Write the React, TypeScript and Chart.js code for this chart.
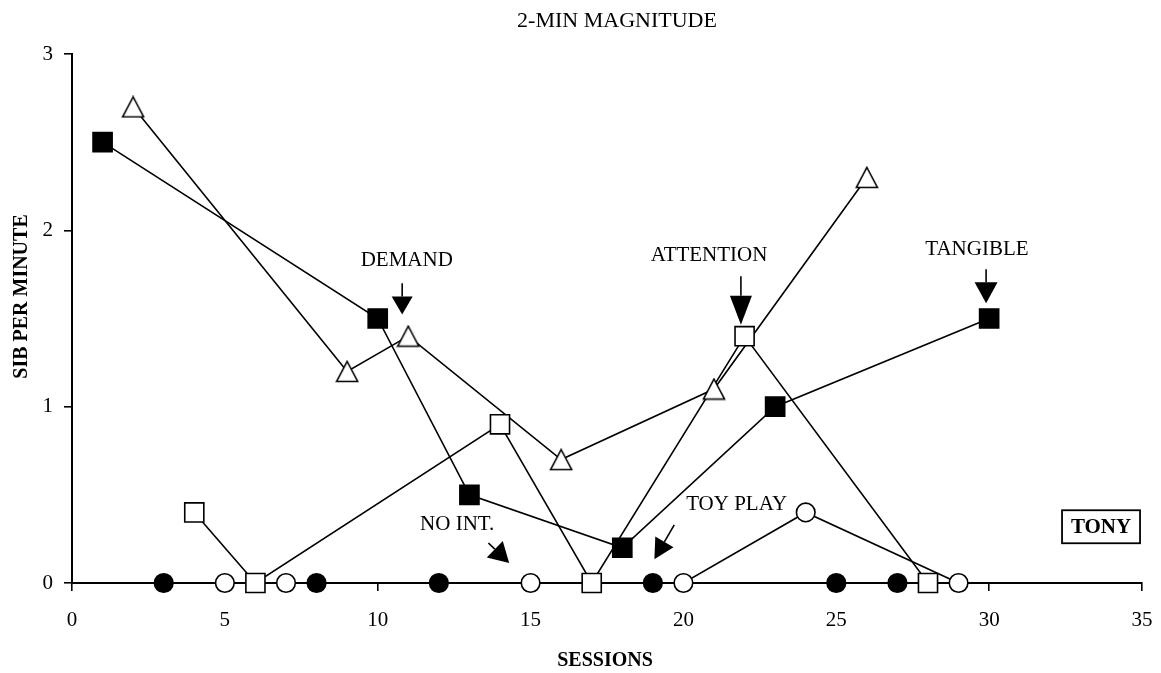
import React, { useEffect, useRef } from "react";
import { Chart, registerables } from "chart.js";

Chart.register(...registerables);

// ---- data ----
const tangibleSessions = [1, 10, 13, 18, 23, 30];
const tangibleRates = [2.5, 1.5, 0.5, 0.2, 1.0, 1.5];

const demandSessions = [2, 9, 11, 16, 21, 26];
const demandRates = [2.7, 1.2, 1.4, 0.7, 1.1, 2.3];

const attentionSessions = [4, 6, 14, 17, 22, 28];
const attentionRates = [0.4, 0, 0.9, 0, 1.4, 0];

const toyPlaySessions = [5, 7, 15, 20, 24, 29];
const toyPlayRates = [0, 0, 0, 0, 0.4, 0];

const noIntSessions = [3, 8, 12, 19, 25, 27];
const noIntRates = [0, 0, 0, 0, 0, 0];

const xTickValues = [0, 5, 10, 15, 20, 25, 30, 35];
const yTickValues = [0, 1, 2, 3];

const chartTitle = "2-MIN MAGNITUDE";
const xAxisTitle = "SESSIONS";
const yAxisTitle = "SIB PER MINUTE";
const subjectName = "TONY";

const conditionNames = ["DEMAND", "ATTENTION", "TANGIBLE", "NO INT.", "TOY PLAY"];

// ---- annotation layout (data coordinates for anchors) ----
const labelLayout = [
  { text: conditionNames[0], x: 10.95, y: 1.83, ax1: 10.8, ay1: 1.70, ax2: 10.8, ay2: 1.523, head: 18, hw: 10.5 },
  { text: conditionNames[1], x: 20.84, y: 1.86, ax1: 21.88, ay1: 1.74, ax2: 21.88, ay2: 1.464, head: 29, hw: 11 },
  { text: conditionNames[2], x: 29.6, y: 1.89, ax1: 29.9, ay1: 1.78, ax2: 29.9, ay2: 1.587, head: 21, hw: 11.5 },
  { text: conditionNames[3], x: 12.6, y: 0.33, ax1: 13.62, ay1: 0.227, ax2: 14.3, ay2: 0.113, head: 20, hw: 11.5 },
  { text: conditionNames[4], x: 21.74, y: 0.444, ax1: 19.7, ay1: 0.33, ax2: 19.05, ay2: 0.135, head: 20, hw: 10.5 },
];

const SERIF = '"Liberation Serif", "Times New Roman", serif';

function pts(xs: number[], ys: number[]) {
  return xs.map((x, i) => ({ x, y: ys[i] }));
}

function makeTriangle(): HTMLCanvasElement {
  const c = document.createElement("canvas");
  c.width = 24;
  c.height = 23;
  const g = c.getContext("2d")!;
  g.beginPath();
  g.moveTo(12, 1.5);
  g.lineTo(22.5, 21.5);
  g.lineTo(1.5, 21.5);
  g.closePath();
  g.fillStyle = "#ffffff";
  g.fill();
  g.lineWidth = 1.6;
  g.strokeStyle = "#000000";
  g.stroke();
  return c;
}

function drawArrow(
  ctx: CanvasRenderingContext2D,
  x1: number,
  y1: number,
  x2: number,
  y2: number,
  head: number,
  hw: number
) {
  const dx = x2 - x1;
  const dy = y2 - y1;
  const len = Math.sqrt(dx * dx + dy * dy);
  const ux = dx / len;
  const uy = dy / len;
  const bx = x2 - ux * head;
  const by = y2 - uy * head;
  ctx.beginPath();
  ctx.moveTo(x1, y1);
  ctx.lineTo(bx, by);
  ctx.lineWidth = 1.6;
  ctx.stroke();
  ctx.beginPath();
  ctx.moveTo(x2, y2);
  ctx.lineTo(bx - uy * hw, by + ux * hw);
  ctx.lineTo(bx + uy * hw, by - ux * hw);
  ctx.closePath();
  ctx.fill();
}

const overlayPlugin = {
  id: "overlay",
  afterDraw(chart: any) {
    const { ctx, chartArea } = chart;
    const xs = chart.scales.x;
    const ys = chart.scales.y;
    ctx.save();
    ctx.fillStyle = "#000";
    ctx.strokeStyle = "#000";
    ctx.textAlign = "center";
    ctx.textBaseline = "middle";

    // title
    ctx.font = `22px ${SERIF}`;
    ctx.fillText(chartTitle, (chartArea.left + chartArea.right) / 2 + 10, 21);

    // axis titles
    ctx.font = `bold 20px ${SERIF}`;
    ctx.fillText(xAxisTitle, (chartArea.left + chartArea.right) / 2 - 2, 661);
    ctx.save();
    ctx.translate(22, (chartArea.top + chartArea.bottom) / 2 - 22);
    ctx.rotate(-Math.PI / 2);
    ctx.fillText(yAxisTitle, 0, 0);
    ctx.restore();

    // condition labels + arrows
    ctx.font = `21px ${SERIF}`;
    for (const a of labelLayout) {
      ctx.fillText(a.text, xs.getPixelForValue(a.x), ys.getPixelForValue(a.y));
      drawArrow(
        ctx,
        xs.getPixelForValue(a.ax1),
        ys.getPixelForValue(a.ay1),
        xs.getPixelForValue(a.ax2),
        ys.getPixelForValue(a.ay2),
        a.head,
        a.hw
      );
    }

    // subject box
    const cx = xs.getPixelForValue(33.66);
    const cy = ys.getPixelForValue(0.319);
    const bw = 78;
    const bh = 33;
    ctx.fillStyle = "#fff";
    ctx.fillRect(cx - bw / 2, cy - bh / 2, bw, bh);
    ctx.lineWidth = 1.8;
    ctx.strokeRect(cx - bw / 2, cy - bh / 2, bw, bh);
    ctx.fillStyle = "#000";
    ctx.font = `bold 21px ${SERIF}`;
    ctx.fillText(subjectName, cx, cy + 1);

    ctx.restore();
  },
};

export default function App() {
  const ref = useRef<HTMLCanvasElement>(null);

  useEffect(() => {
    if (!ref.current) return;
    const triangle = makeTriangle();

    const lineDs = (data: any[]) => ({
      type: "line" as const,
      data,
      borderColor: "#000",
      borderWidth: 1.6,
      pointRadius: 0,
      showLine: true,
      fill: false,
      tension: 0,
      order: 2,
      clip: false as any,
    });
    const pointDs = (data: any[], style: any, radius: number, fillColor: string) => ({
      type: "line" as const,
      data,
      showLine: false,
      pointStyle: style,
      pointRadius: radius,
      pointBackgroundColor: fillColor,
      pointBorderColor: "#000",
      pointBorderWidth: 1.6,
      order: 1,
      clip: false as any,
    });

    const tangible = pts(tangibleSessions, tangibleRates);
    const demand = pts(demandSessions, demandRates);
    const attention = pts(attentionSessions, attentionRates);
    const toyPlay = pts(toyPlaySessions, toyPlayRates);
    const noInt = pts(noIntSessions, noIntRates);

    const chart = new Chart(ref.current, {
      type: "line",
      data: {
        datasets: [
          lineDs(tangible),
          lineDs(demand),
          lineDs(attention),
          lineDs(toyPlay),
          lineDs(noInt),
          pointDs(tangible, "rect", 13.5, "#000"),
          pointDs(demand, triangle, 11, "#fff"),
          pointDs(attention, "rect", 13.5, "#fff"),
          pointDs(toyPlay, "circle", 9.3, "#fff"),
          pointDs(noInt, "circle", 9.3, "#000"),
        ] as any,
      },
      options: {
        animation: false,
        responsive: false,
        devicePixelRatio: 1,
        layout: { padding: { top: 54, right: 19, left: 0, bottom: 0 } },
        plugins: {
          legend: { display: false },
          tooltip: { enabled: false },
          title: { display: false },
        },
        scales: {
          x: {
            type: "linear",
            min: 0,
            max: 35,
            afterFit: (s: any) => {
              s.height = 90;
              s.paddingLeft = 0;
              s.paddingRight = 0;
            },
            afterBuildTicks: (s: any) => {
              s.ticks = xTickValues.map((v) => ({ value: v }));
            },
            ticks: {
              color: "#000",
              font: { family: SERIF, size: 21 },
              padding: 17,
              maxRotation: 0,
            },
            grid: {
              drawOnChartArea: false,
              drawTicks: true,
              tickLength: 8,
              color: "#000",
              lineWidth: 1.6,
            },
            border: { display: true, color: "#000", width: 2 },
          },
          y: {
            type: "linear",
            min: 0,
            max: 3,
            afterFit: (s: any) => {
              s.width = 72;
              s.paddingTop = 0;
              s.paddingBottom = 0;
            },
            afterBuildTicks: (s: any) => {
              s.ticks = yTickValues.map((v) => ({ value: v }));
            },
            ticks: {
              color: "#000",
              font: { family: SERIF, size: 21 },
              padding: 11,
            },
            grid: {
              drawOnChartArea: false,
              drawTicks: true,
              tickLength: 8,
              color: "#000",
              lineWidth: 1.6,
            },
            border: { display: true, color: "#000", width: 2 },
          },
        },
      },
      plugins: [overlayPlugin],
    });

    return () => chart.destroy();
  }, []);

  return (
    <div
      style={{
        position: "absolute",
        left: 0,
        top: 0,
        width: 1161,
        height: 673,
        background: "#fff",
      }}
    >
      <canvas ref={ref} width={1161} height={673} style={{ width: 1161, height: 673 }} />
    </div>
  );
}
